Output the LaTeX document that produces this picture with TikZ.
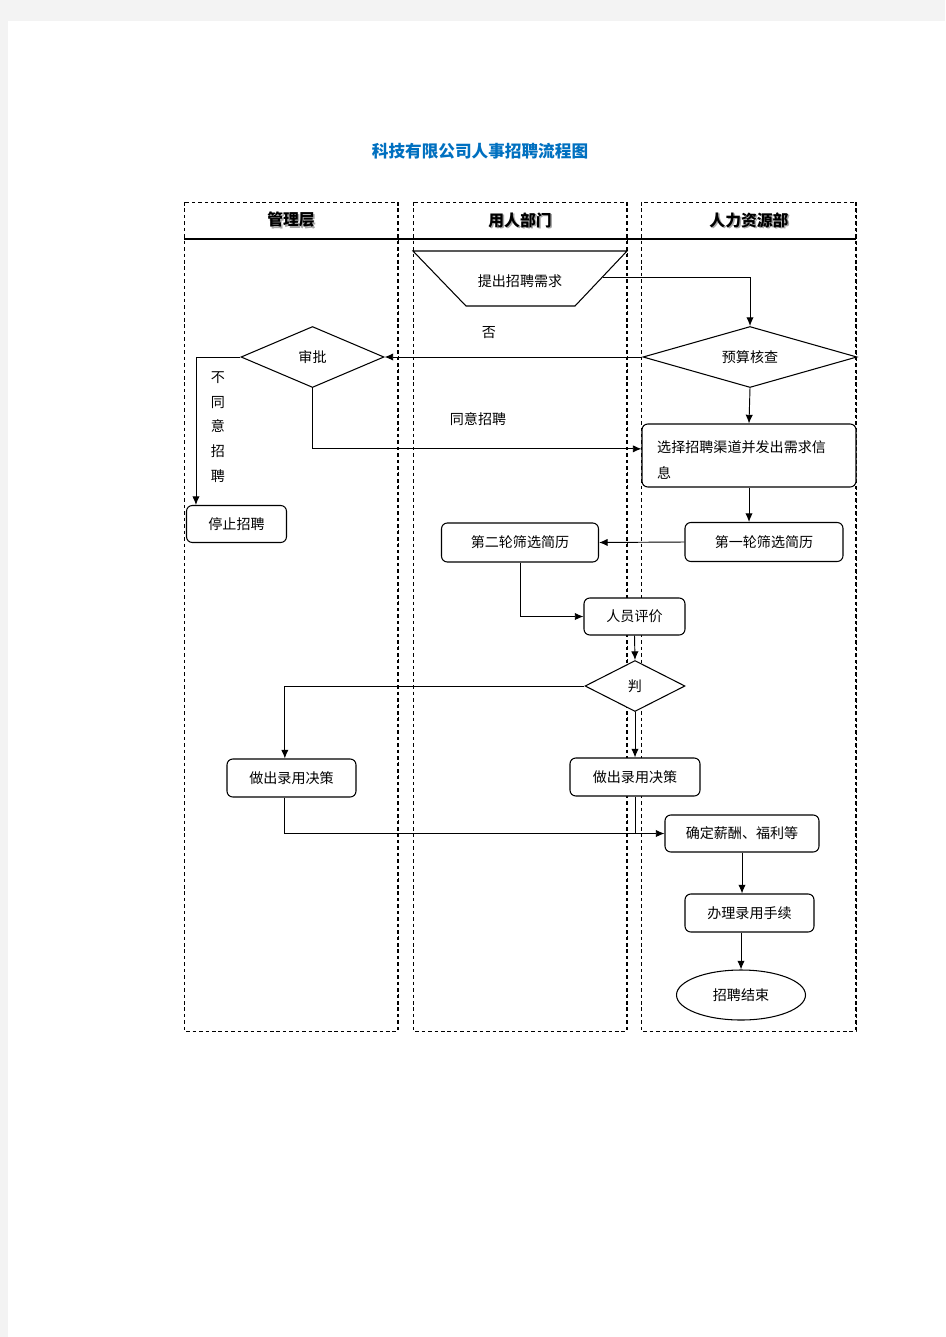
\documentclass[tikz,border=0pt]{standalone}
\usepackage{fontspec}
\setmainfont{Noto Sans CJK SC}
\usetikzlibrary{shapes.geometric,arrows.meta}

\definecolor{titleblue}{RGB}{0,112,192}
\definecolor{pagegray}{RGB}{243,243,243}

\begin{document}
\begin{tikzpicture}[x=0.03cm,y=-0.03cm,
		lane/.style={line width=0.7pt,dash pattern=on 3pt off 2.5pt},
		laneright/.style={line width=1.4pt,dash pattern=on 3pt off 2.5pt},
		boxtext/.style={font=\fontsize{12}{14}\selectfont,inner sep=0pt},
		box/.style={boxtext,draw,fill=white,rounded corners=5pt,line width=0.9pt},
		choice/.style={boxtext,diamond,draw,fill=white,line width=0.9pt,aspect=2},
		arr/.style={line width=0.8pt,-{Latex[length=2.6mm,width=2.2mm]}},
		link/.style={line width=0.8pt},
		head/.style={font=\fontsize{13.5}{16}\bfseries\selectfont}]
		\useasboundingbox (0,0) rectangle (945,1337);
		
		% page
		\fill[pagegray] (0,0) rectangle (945,1337);
		\fill[white] (8,21) rectangle (945,1337);
		
		% title
		\node[text=titleblue,font=\fontsize{14.2}{18}\bfseries\selectfont] (title) at (480,151) {科技有限公司人事招聘流程图};
		
		% lanes
		\draw[lane] (184,202) rectangle (398,1031)
		            (413,202) rectangle (627,1031)
		            (641,202) rectangle (856,1031);
		\draw[laneright] (398,202) -- (398,1031)
		                 (627,202) -- (627,1031)
		                 (856,202) -- (856,1031);
		\draw[line width=1.5pt] (184,239) -- (856,239);
		
		% lane heads
		\foreach \x/\name in {291/管理层,520/用人部门,749/人力资源部}{
			\node[head,text=black!35] at (\x+1.5,221.5) {\name};
			\node[head] (head\x) at (\x,220) {\name};
		}
		
		% request
		\filldraw[fill=white,line width=0.9pt] (413,251) -- (627,251) -- (575,306) -- (466,306) -- cycle;
		\node[boxtext] (req) at (520,281) {提出招聘需求};
		\coordinate (reqside) at (603,277);
		
		% budget and approval
		\node[choice,minimum width=6.42cm,minimum height=1.83cm] (budget) at (750,357) {预算核查};
		\node[choice,minimum width=4.29cm,minimum height=1.83cm] (approve) at (312.5,357) {审批};
		\node[box,minimum width=3cm,minimum height=1.11cm] (stop) at (236.5,524) {停止招聘};
		\node[box,minimum width=6.42cm,minimum height=1.89cm] (channel) at (749,455.5) {};
		\node[boxtext,anchor=west,align=left,font=\fontsize{12}{22}\selectfont] (channeltext) at (657,460) {选择招聘渠道并发出需求信\\息};
		
		% screening
		\node[box,minimum width=4.74cm,minimum height=1.17cm] (first) at (764,542) {第一轮筛选简历};
		\node[box,minimum width=4.71cm,minimum height=1.17cm] (second) at (520,542.5) {第二轮筛选简历};
		\node[box,minimum width=3.03cm,minimum height=1.11cm] (eval) at (634.5,616.5) {人员评价};
		\node[choice,minimum width=3cm,minimum height=1.53cm] (judge) at (635,686) {判};
		
		% decisions
		\node[box,minimum width=3.87cm,minimum height=1.14cm] (decideA) at (291.5,778) {做出录用决策};
		\node[box,minimum width=3.9cm,minimum height=1.14cm] (decideB) at (635,777) {做出录用决策};
		\node[box,minimum width=4.62cm,minimum height=1.11cm] (salary) at (742,833.5) {确定薪酬、福利等};
		\node[box,minimum width=3.87cm,minimum height=1.14cm] (handle) at (749.5,913) {办理录用手续};
		\node[boxtext,ellipse,draw,fill=white,line width=0.9pt,minimum width=3.87cm,minimum height=1.5cm] (finish) at (741,995) {招聘结束};
		
		% labels
		\node[boxtext] (no) at (489,333) {否};
		\node[boxtext] (agree) at (478,419) {同意招聘};
		\node[boxtext,align=center,font=\fontsize{12}{21}\selectfont] (refuse) at (218,427) {不\\同\\意\\招\\聘};
		
		% connectors
		\draw[arr] (reqside) -| (budget.north);
		\draw[arr] (budget.west) -- (approve.east);
		\draw[arr] (approve.west) -| ([xshift=0.3cm]stop.north west);
		\draw[arr] (approve.south) |- ([yshift=0.2cm]channel.west);
		\draw[arr] (budget.south) -- (channel.north);
		\draw[arr] (channel.south) -- (channel.south |- first.north);
		\draw[arr] (first.west) -- (second.east);
		\draw[arr] (second.south) |- (eval.west);
		\draw[arr] (eval.south) -- (judge.north);
		\draw[arr] (judge.west) -| ([xshift=-0.2cm]decideA.north);
		\draw[arr] (judge.south) -- (decideB.north);
		\draw[arr] ([xshift=-0.2cm]decideA.south) |- (salary.west);
		\draw[link] (decideB.south) -- (decideB.south |- salary.west);
		\draw[arr] (salary.south) -- (salary.south |- handle.north);
		\draw[arr] (finish.north |- handle.south) -- (finish.north);
	\end{tikzpicture}
\end{document}
